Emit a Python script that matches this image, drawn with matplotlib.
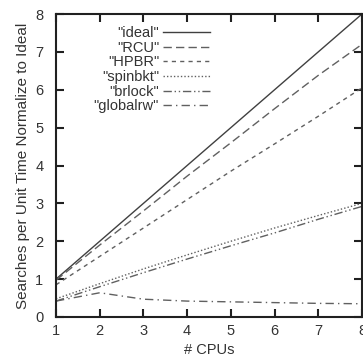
import matplotlib
matplotlib.use("Agg")
import matplotlib.pyplot as plt

cpus = [1, 2, 3, 4, 5, 6, 7, 8]
ideal = [1, 2, 3, 4, 5, 6, 7, 8]
rcu = [0.97, 1.9, 2.8, 3.72, 4.6, 5.5, 6.38, 7.2]
hpbr = [0.85, 1.6, 2.35, 3.1, 3.85, 4.57, 5.3, 6.05]
spinbkt = [0.48, 0.88, 1.27, 1.64, 2.0, 2.35, 2.68, 3.0]
brlock = [0.42, 0.8, 1.17, 1.53, 1.88, 2.22, 2.58, 2.92]
globalrw = [0.42, 0.64, 0.47, 0.42, 0.40, 0.38, 0.36, 0.35]

plt.rcParams["font.family"] = ["Liberation Sans", "DejaVu Sans"]
plt.rcParams["font.size"] = 10.5

fig = plt.figure(figsize=(3.63, 3.62), dpi=100)
ax = fig.add_axes([56 / 363, 1 - 317 / 362, 306 / 363, 303 / 362])

c = "#606060"
ax.plot(cpus, ideal, color="#404040", lw=1.0, label='"ideal"')
ax.plot(cpus, rcu, color=c, lw=1.0, dashes=(6, 3), label='"RCU"')
ax.plot(cpus, hpbr, color=c, lw=1.0, dashes=(3, 3), label='"HPBR"')
ax.plot(cpus, spinbkt, color=c, lw=1.0, dashes=(1, 1.5), label='"spinbkt"')
ax.plot(cpus, brlock, color=c, lw=1.0, dashes=(6, 2, 1, 2, 1, 2), label='"brlock"')
ax.plot(cpus, globalrw, color=c, lw=1.0, dashes=(6, 3, 1, 3), label='"globalrw"')

ax.set_xlim(1, 8)
ax.set_ylim(0, 8)
ax.set_xticks(cpus)
ax.set_yticks(range(0, 9))
ax.tick_params(direction="in", length=6, width=1.5, top=True, right=True,
               colors="#202020", labelcolor="#333333")
ax.tick_params(axis="y", pad=9)
ax.tick_params(axis="x", pad=5)
for s in ax.spines.values():
    s.set_linewidth(1.5)
    s.set_color("#202020")
ax.set_xlabel("# CPUs", labelpad=4, color="#333333")
ax.set_ylabel("Searches per Unit Time Normalize to Ideal", labelpad=4,
              color="#333333", fontsize=11)

ax.legend(loc="upper left", bbox_to_anchor=(0.09, 0.993), frameon=False,
          markerfirst=False, handlelength=3.2, labelspacing=0.04,
          borderpad=0.2, handletextpad=0.3, fontsize=10.5, labelcolor="#333333")
leg = ax.get_legend()
for t in leg.get_texts():
    t.set_ha("right")

fig.savefig("out.png", dpi=100)
